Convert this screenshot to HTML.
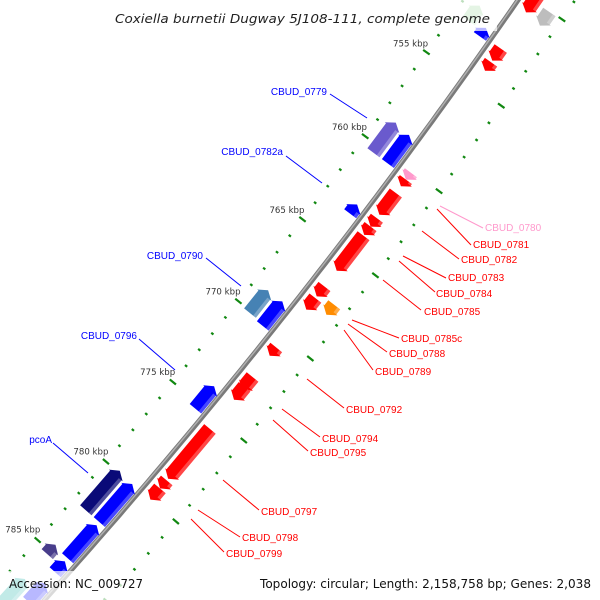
<!DOCTYPE html>
<html><head><meta charset="utf-8"><style>
html,body{margin:0;padding:0;background:#fff;width:600px;height:600px;overflow:hidden;}
svg{display:block;}
</style></head><body>
<svg id="map" width="600" height="600" viewBox="0 0 600 600" xmlns="http://www.w3.org/2000/svg">
<g id="ticks"></g>
<g id="tickLabels"></g>
<g id="backbone"></g>
<g id="genes"></g>
<g id="labels"></g>
<rect x="105" y="0" width="392" height="31" fill="#fff" opacity="0.72"/>
<rect x="0" y="571" width="240" height="29" fill="#fff" opacity="0.72"/>
<rect x="255" y="571" width="345" height="29" fill="#fff" opacity="0.72"/>
<text x="115" y="23" font-family="DejaVu Sans, sans-serif" font-style="italic" font-size="12.5" fill="#222" textLength="375" lengthAdjust="spacingAndGlyphs">Coxiella burnetii Dugway 5J108-111, complete genome</text>
<text x="9" y="588" font-family="DejaVu Sans, sans-serif" font-size="12.5" fill="#111" textLength="134" lengthAdjust="spacingAndGlyphs">Accession: NC_009727</text>
<text x="260" y="588" font-family="DejaVu Sans, sans-serif" font-size="12.5" fill="#111" textLength="331" lengthAdjust="spacingAndGlyphs">Topology: circular; Length: 2,158,758 bp; Genes: 2,038</text>
</svg>
<script>
// ---- data ----
var geneStart = [749.0, 750.05, 751.7, 752.4, 752.8, 753.6, 758.6, 758.7, 760.1, 760.5, 761.3, 762.85, 762.8, 763.3, 763.85, 766.9, 767.3, 767.6, 768.7, 768.7, 770.6, 772.4, 773.0, 773.9, 775.6, 778.8, 779.3, 779.9, 780.0, 782.6, 784.6, 784.9, 786.3, 786.8];
var geneEnd   = [750.7, 750.84, 752.6, 752.9, 753.5, 754.1, 760.4, 760.4, 760.5, 760.9, 762.6, 763.4, 763.3, 763.8, 765.95, 767.5, 767.9, 768.3, 770.1, 770.2, 771.1, 773.2, 773.8, 775.3, 778.7, 779.3, 780.0, 782.4, 782.4, 784.7, 785.2, 785.6, 787.5, 788.6];
var geneRow   = [3, 4, 1, 2, 3, 3, 1, 2, 3, 3, 3, 2, 3, 3, 3, 3, 4, 3, 1, 2, 3, 3, 3, 2, 3, 3, 3, 1, 2, 2, 1, 2, 2, 1];
var geneColor = ["#ff0000","#bdbdbd","#9ed69e","#0000ff","#ff0000","#ff0000","#6a5acd","#0000ff","#ff99cc","#ff0000","#ff0000","#0000ff","#ff0000","#ff0000","#ff0000","#ff0000","#ff8c00","#ff0000","#4682b4","#0000ff","#ff0000","#ff0000","#ff0000","#0000ff","#ff0000","#ff0000","#ff0000","#0a0a78","#0000ff","#0000ff","#483d8b","#0000ff","#0000ff","#20b2aa"];
var tickStart = 749, tickEnd = 789;
var majorTickLabels = [755, 760, 765, 770, 775, 780, 785];

var labelText = ["CBUD_0779","CBUD_0782a","CBUD_0790","CBUD_0796","pcoA",
  "CBUD_0780","CBUD_0781","CBUD_0782","CBUD_0783","CBUD_0784","CBUD_0785","CBUD_0785c","CBUD_0788","CBUD_0789","CBUD_0792","CBUD_0794","CBUD_0795","CBUD_0797","CBUD_0798","CBUD_0799"];
var labelColor = ["#0000ff","#0000ff","#0000ff","#0000ff","#0000ff","#ff99cc","#ff0000","#ff0000","#ff0000","#ff0000","#ff0000","#ff0000","#ff0000","#ff0000","#ff0000","#ff0000","#ff0000","#ff0000","#ff0000","#ff0000"];

// ---- geometry ----
var CX = -4454, CY = -3438, R0 = 6000;
function theta(k){ return (38.55 + (k - 770) * 0.19865) * Math.PI / 180; }
function P(k, d){ var t = theta(k); return [CX + (R0 + d) * Math.cos(t), CY + (R0 + d) * Math.sin(t)]; }
var rowD = {1:[9,24], 2:[27,42], 3:[51,66], 4:[70,85]};
var NS = "http://www.w3.org/2000/svg";
function mk(tag, attrs, parent){ var e = document.createElementNS(NS, tag); for (var a in attrs) e.setAttribute(a, attrs[a]); parent.appendChild(e); return e; }
function pts(arr){ return arr.map(function(p){ return p[0].toFixed(1)+","+p[1].toFixed(1); }).join(" "); }

// backbone
var bb = document.getElementById('backbone');
function arcPath(d, k0, k1){ var s = "M"; for (var k = k0; k <= k1; k += 0.5){ var p = P(k, d); s += p[0].toFixed(1)+","+p[1].toFixed(1)+" L"; } return s.slice(0, -2); }
var b1 = mk('path', {d: arcPath(45, 745, 790), stroke: "#7a7a7a", "stroke-width": 5, fill: "none"}, bb);


var b2 = mk('path', {d: arcPath(44.2, 745, 790), stroke: "#b0b0b0", "stroke-width": 1.5, fill: "none"}, bb);



// ticks
var tg = document.getElementById('ticks');
for (var k = tickStart; k <= tickEnd; k++){
  var major = (k % 5 === 0);
  [[0, major ? 4 : 1.4], [92, major ? 4 : 1.4]].forEach(function(r){
    var a = P(k, r[0] - r[1]), b = P(k, r[0] + r[1]);
    var ln = mk('line', {x1:a[0], y1:a[1], x2:b[0], y2:b[1], stroke:"#118811", "stroke-width": 2.2}, tg);
    
    
  });
}
var tl = document.getElementById('tickLabels');
majorTickLabels.forEach(function(v){
  var p = P(v + 0.1, -18);
  var t = mk('text', {x: p[0], y: p[1] + 3, "text-anchor": "middle", "font-family": "DejaVu Sans, sans-serif", "font-size": 8.6, fill: "#333"}, tl);
  
  
  t.textContent = v + " kbp";
});

// genes
var gg = document.getElementById('genes');
for (var i = 0; i < geneStart.length; i++){
  var a = geneStart[i], b = geneEnd[i], dr = rowD[geneRow[i]], d1 = dr[0], d2 = dr[1], dm = (d1 + d2) / 2;
  var fwd = (geneColor[i] !== "#ff0000" && geneColor[i] !== "#ff99cc" && geneColor[i] !== "#ff8c00" && geneColor[i] !== "#bdbdbd");
  var head = Math.min(0.3, b - a);
  var poly;
  if (fwd){
    var h = a + head;
    poly = [P(a, dm), P(h, d2 + 1.5), P(h, d2), P(b, d2), P(b, d1), P(h, d1), P(h, d1 - 1.5)];
  } else {
    var h = b - head;
    poly = [P(b, dm), P(h, d2 + 1.5), P(h, d2), P(a, d2), P(a, d1), P(h, d1), P(h, d1 - 1.5)];
  }
  var g = mk('polygon', {points: pts(poly), fill: geneColor[i]}, gg);
  
  
  var s0 = fwd ? a + head : a, s1 = fwd ? b : b - head;
  if (s1 - s0 > 0.05){
    var sh = mk('polygon', {points: pts([P(s0, d2 - 3.5), P(s1, d2 - 3.5), P(s1, d2), P(s0, d2)]), fill: "#ffffff", opacity: 0.28}, gg);
    
    
  }
}

// labels: [x, y (baseline), anchor, lineX1, lineY1, lineX2, lineY2]
var labelPos = [
  [327,95,"end",330,94,367,118],
  [283,155,"end",286,156,322,183],
  [203,259,"end",206,258,241,286],
  [137,339,"end",139,339,175,370],
  [52,443,"end",53,443,88,473],
  [485,231,"start",440,206,483,228],
  [473,248,"start",437,209,471,245],
  [461,263,"start",422,231,459,259],
  [448,281,"start",403,256,446,278],
  [436,297,"start",399,261,435,292],
  [424,315,"start",383,280,421,310],
  [401,342,"start",352,320,399,338],
  [389,357,"start",348,324,387,352],
  [375,375,"start",344,330,373,370],
  [346,413,"start",307,379,344,408],
  [322,442,"start",282,409,320,437],
  [310,456,"start",273,420,308,451],
  [261,515,"start",223,480,259,510],
  [242,541,"start",198,510,240,537],
  [226,557,"start",191,519,224,552]
];
var lg = document.getElementById('labels');
for (var j = 0; j < labelText.length; j++){
  var L = labelPos[j];
  var ln = mk('line', {x1:L[3], y1:L[4], x2:L[5], y2:L[6], stroke: labelColor[j], "stroke-width": 1}, lg);
  
  
  var t = mk('text', {x:L[0], y:L[1], "text-anchor":L[2], "font-family":"Liberation Sans, sans-serif", "font-size":10, fill: labelColor[j]}, lg);
  
  
  t.textContent = labelText[j];
}
</script>
</body></html>
